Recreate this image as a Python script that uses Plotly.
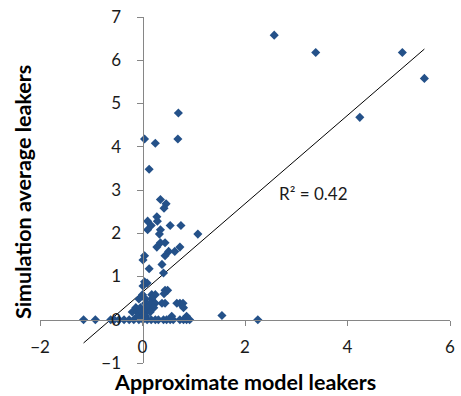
import plotly.graph_objects as go

# Data (approximate model vs simulation average leakers)
approx_x = [
    2.57, 3.38, 5.07, 5.50, 4.24,
    0.70, 0.69, 0.04, 0.25, 0.13,
    0.35, 0.46, 0.42, 0.28, 0.10, 0.29,
    0.17, 0.10, 0.35, 0.33, 0.54, 0.75, 1.08,
    0.28, 0.35, 0.44, 0.73, 0.51, 0.44, 0.63,
    0.04, 0.01, 0.38, 0.13, 0.41,
    0.04, 0.09, 0.01,
    0.44, 0.49, 0.42, 0.00, 0.18, 0.25,
    -0.07, 0.06, 0.18,
    0.06, 0.15, 0.25, 0.38, 0.44, 0.67, 0.73, 0.79,
    -0.13, -0.04, 0.09, 0.22, 0.80,
    -0.20, -0.10, -0.04, 0.06, 0.15,
    -0.10, 0.00, 0.06, 0.57, 0.86, 1.55,
    -1.15, -0.92, -0.62, -0.55, -0.46, -0.36, -0.26, -0.17, -0.07, 0.01,
    0.09, 0.17, 0.25, 0.31, 0.41, 0.47, 0.54, 0.60, 0.73, 0.80, 0.86, 0.92, 2.25,
]
sim_y = [
    6.58, 6.18, 6.18, 5.58, 4.68,
    4.78, 4.18, 4.18, 4.08, 3.48,
    2.78, 2.68, 2.58, 2.38, 2.28, 2.28,
    2.18, 2.08, 2.08, 1.98, 2.18, 2.18, 1.98,
    1.68, 1.78, 1.78, 1.68, 1.58, 1.48, 1.58,
    1.48, 1.38, 1.28, 1.18, 1.08,
    0.88, 0.85, 0.78,
    0.68, 0.68, 0.60, 0.58, 0.58, 0.58,
    0.48, 0.48, 0.48,
    0.38, 0.38, 0.38, 0.38, 0.38, 0.38, 0.38, 0.38,
    0.28, 0.28, 0.28, 0.28, 0.28,
    0.18, 0.18, 0.18, 0.18, 0.18,
    0.08, 0.08, 0.08, 0.08, 0.08, 0.10,
    0.0, 0.0, 0.0, 0.0, 0.0, 0.0, 0.0, 0.0, 0.0, 0.0,
    0.0, 0.0, 0.0, 0.0, 0.0, 0.0, 0.0, 0.0, 0.0, 0.0, 0.0, 0.0, 0.0,
]

# Linear trendline
trend_slope = 1.022
trend_intercept = 0.638
r2_label = "R² = 0.42"

x_ticks = [-2, 0, 2, 4, 6]
y_ticks = [-1, 0, 1, 2, 3, 4, 5, 6, 7]
x_range = [-2, 6]
y_range = [-1, 7]

x_title = "Approximate model leakers"
y_title = "Simulation average leakers"

marker_color = "#245189"
axis_color = "#868686"
text_color = "#1a1a1a"
font_family = "Lato, 'Open Sans', sans-serif"

fig = go.Figure()

tx = [min(approx_x), max(approx_x)]
ty = [trend_slope * v + trend_intercept for v in tx]
fig.add_trace(go.Scatter(
    x=tx, y=ty, mode="lines",
    line=dict(color="black", width=1),
    hoverinfo="skip", showlegend=False,
))

fig.add_trace(go.Scatter(
    x=approx_x, y=sim_y, mode="markers",
    marker=dict(symbol="diamond", size=7, color=marker_color, line=dict(width=0)),
    showlegend=False,
))

# axes cross at zero (Excel style)
x_pos = (0 - y_range[0]) / (y_range[1] - y_range[0])
y_pos = (0 - x_range[0]) / (x_range[1] - x_range[0])

fig.update_layout(
    width=461, height=396,
    margin=dict(l=40, r=6, t=16, b=33),
    paper_bgcolor="white", plot_bgcolor="white",
    font=dict(family=font_family, size=16, color=text_color),
    xaxis=dict(
        range=x_range, tickvals=x_ticks, showgrid=False, zeroline=False,
        showline=True, linecolor=axis_color, linewidth=1,
        ticks="outside", ticklen=5, tickcolor=axis_color,
        anchor="free", position=x_pos, ticklabelstandoff=7,
        tickfont=dict(size=17),
    ),
    yaxis=dict(
        range=y_range, tickvals=y_ticks, showgrid=False, zeroline=False,
        showline=True, linecolor=axis_color, linewidth=1,
        ticks="outside", ticklen=6, tickcolor=axis_color,
        anchor="free", position=y_pos, ticklabelstandoff=12,
        tickfont=dict(size=17),
    ),
    annotations=[
        dict(text=r2_label, x=2.62, y=2.92, xref="x", yref="y",
             xanchor="left", yanchor="middle", showarrow=False,
             font=dict(size=17, color=text_color)),
        dict(text="<b>" + x_title + "</b>", x=0.5, y=-0.055, xref="paper", yref="paper",
             xanchor="center", yanchor="middle", showarrow=False,
             font=dict(size=21.5, color="black")),
        dict(text="<b>" + y_title + "</b>", x=-0.043, y=0.495, xref="paper", yref="paper",
             xanchor="center", yanchor="middle", textangle=-90, showarrow=False,
             font=dict(size=21.5, color="black")),
    ],
)

fig.write_html("out.html")
